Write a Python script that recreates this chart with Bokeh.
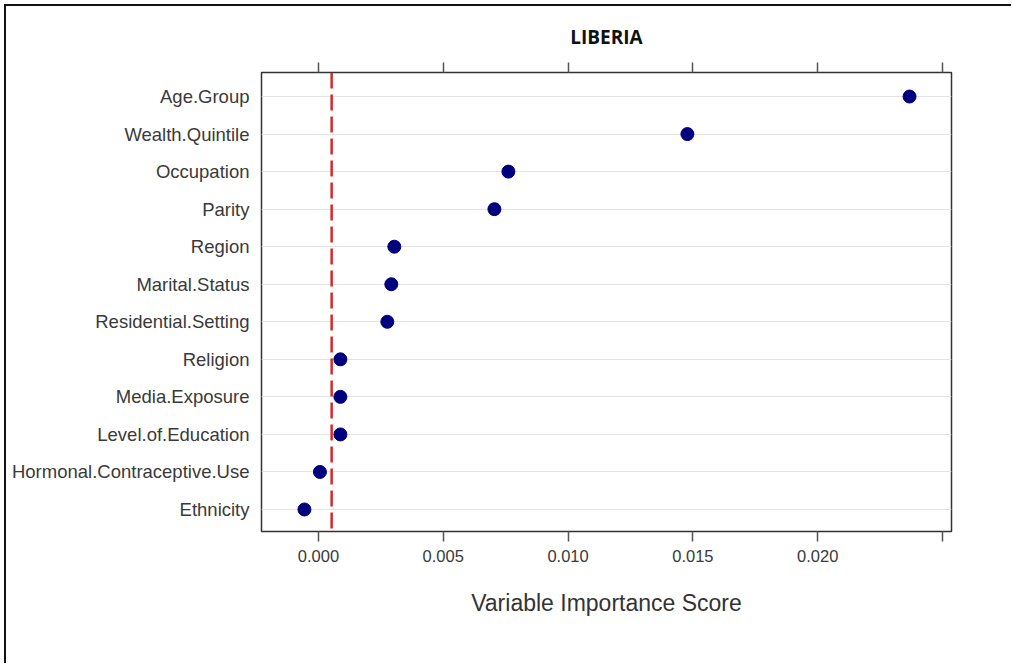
from bokeh.plotting import figure
from bokeh.models import FixedTicker, LinearAxis, Range1d, Span, ColumnDataSource, Title
from bokeh.embed import file_html
from bokeh.resources import INLINE

variables = ["Ethnicity", "Hormonal.Contraceptive.Use", "Level.of.Education",
             "Media.Exposure", "Religion", "Residential.Setting", "Marital.Status",
             "Region", "Parity", "Occupation", "Wealth.Quintile", "Age.Group"]
scores = [-0.00056, 0.00006, 0.00088, 0.00088, 0.00088, 0.00276, 0.00292,
          0.00304, 0.00705, 0.00761, 0.01478, 0.02368]
cutoff = 0.00053
x_ticks = [0.0, 0.005, 0.010, 0.015, 0.020, 0.025]
x_tick_labels = ["0.000", "0.005", "0.010", "0.015", "0.020", ""]
title_text = "LIBERIA"
x_label = "Variable Importance Score"

ypos = list(range(1, len(variables) + 1))
src = ColumnDataSource(dict(x=scores, y=ypos))

p = figure(width=1007, height=659, output_backend="svg", toolbar_location=None,
           x_range=Range1d(-0.00228, 0.02536), y_range=Range1d(0.414, 12.64),
           min_border_left=255, min_border_right=62, min_border_top=66,
           min_border_bottom=134)
p.title = Title(text=title_text, align="center", text_font="Open Sans",
                text_font_size="19px", text_font_style="bold", text_color="#111111",
                offset=0, standoff=25)

p.outline_line_color = "#333333"
p.outline_line_width = 1.5
p.xgrid.visible = False
p.ygrid.ticker = FixedTicker(ticks=ypos)
p.ygrid.grid_line_color = "#e4e4e4"
p.ygrid.grid_line_width = 1.2

xa = p.xaxis[0]
xa.ticker = FixedTicker(ticks=x_ticks)
xa.major_label_overrides = {t: l for t, l in zip(x_ticks, x_tick_labels)}
xa.axis_line_color = None
xa.major_tick_in = 0
xa.major_tick_out = 10
xa.major_tick_line_color = "#555555"
xa.major_tick_line_width = 1.5
xa.minor_tick_line_color = None
xa.major_label_text_font = "Liberation Sans"
xa.major_label_text_font_size = "16.5px"
xa.major_label_text_color = "#3a3a3a"
xa.major_label_standoff = 8
xa.axis_label = x_label
xa.axis_label_text_font = "Liberation Sans"
xa.axis_label_text_font_size = "23px"
xa.axis_label_text_font_style = "normal"
xa.axis_label_text_color = "#333333"
xa.axis_label_standoff = 25

top = LinearAxis(ticker=FixedTicker(ticks=x_ticks))
top.major_label_overrides = {t: "" for t in x_ticks}
top.axis_line_color = None
top.major_tick_in = 0
top.major_tick_out = 10
top.major_tick_line_color = "#555555"
top.major_tick_line_width = 1.5
top.minor_tick_line_color = None
top.major_label_standoff = 0
p.add_layout(top, "above")

ya = p.yaxis[0]
ya.ticker = FixedTicker(ticks=ypos)
ya.major_label_overrides = {i: v for i, v in zip(ypos, variables)}
ya.axis_line_color = None
ya.major_tick_in = 0
ya.major_tick_out = 0
ya.minor_tick_line_color = None
ya.major_label_text_font = "Liberation Sans"
ya.major_label_text_font_size = "18.5px"
ya.major_label_text_color = "#3a3a3a"
ya.major_label_standoff = 12

p.add_layout(Span(location=cutoff, dimension="height", line_color="#d42a2a",
                  line_width=2.5, line_dash="16 6"))
p.scatter("x", "y", source=src, size=13, color="#00007f")

p.styles = {"margin-left": "4px", "margin-top": "4px",
            "border-left": "2px solid #111111", "border-top": "2px solid #111111"}

open("out.html", "w").write(file_html(p, INLINE))
